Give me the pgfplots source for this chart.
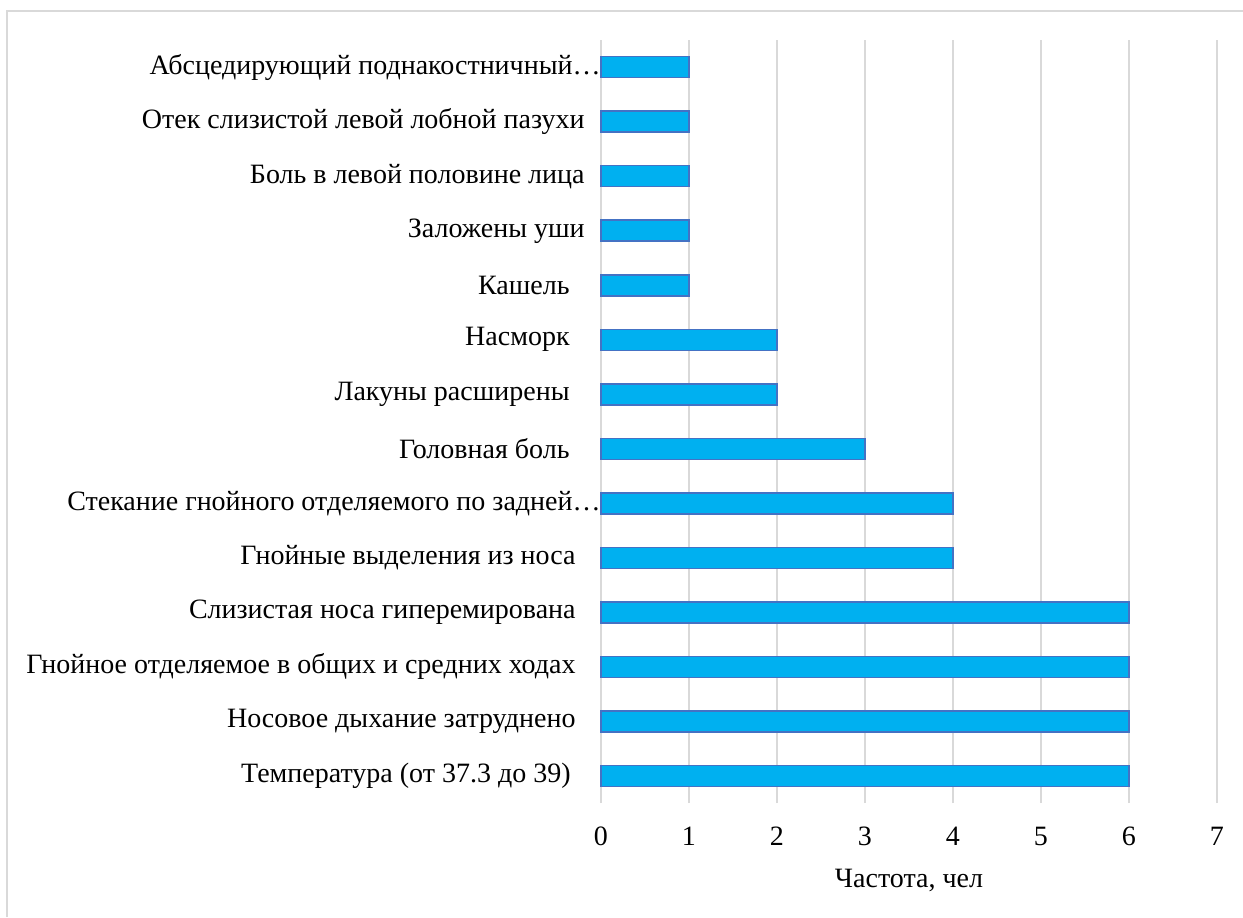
\documentclass[border=0pt]{standalone}
\usepackage{pgfplots}
\pgfplotsset{compat=1.18}
\usepackage{fontspec}
\setmainfont{Liberation Serif}
\definecolor{barfill}{HTML}{00B0F0}
\definecolor{baredge}{HTML}{4472C4}
\definecolor{gridc}{HTML}{D9D9D9}
\begin{document}
\begin{tikzpicture}
\path[use as bounding box] (0,0) rectangle (621.5pt,458.5pt);
\draw[gridc, line width=1pt] (3.5pt,0) -- (3.5pt,453pt) -- (621.5pt,453pt);
\begin{axis}[
  at={(300.5pt,57pt)}, anchor=south west,
  scale only axis, width=308pt, height=381.5pt,
  xbar, bar width=10.5pt,
  xmin=0, xmax=7, ymin=-0.5, ymax=13.5,
  xtick={0,...,7},
  ytick={0,...,13},
  yticklabels={
    {Температура (от 37.3 до 39)\hspace*{7pt}},
    {Носовое дыхание затруднено\hspace*{4.5pt}},
    {Гнойное отделяемое в общих и средних ходах\hspace*{4.5pt}},
    {Слизистая носа гиперемирована\hspace*{4.5pt}},
    {Гнойные выделения из носа\hspace*{4.5pt}},
    {Стекание гнойного отделяемого по задней…\hspace*{-8pt}},
    {Головная боль\hspace*{7.5pt}},
    {Лакуны расширены\hspace*{7.5pt}},
    {Насморк\hspace*{7.5pt}},
    {Кашель\hspace*{7.5pt}},
    {Заложены уши\hspace*{0pt}},
    {Боль в левой половине лица\hspace*{0pt}},
    {Отек слизистой левой лобной пазухи\hspace*{0pt}},
    {Абсцедирующий поднакостничный…\hspace*{-8pt}}
  },
  axis line style={draw=none},
  major tick length=0pt,
  xmajorgrids, grid style={gridc, line width=1pt},
  ymajorgrids=false,
  /pgf/number format/assume math mode=true,
  tick label style={font=\fontsize{14}{16}\selectfont},
  yticklabel style={anchor=east, inner sep=0pt, xshift=-8pt},
  xticklabel style={anchor=center, inner sep=0pt, yshift=-16.5pt},
  xlabel={Частота, чел},
  xlabel style={font=\fontsize{14}{16}\selectfont, anchor=center, inner sep=0pt, at={(axis description cs:0.5,0)}, yshift=-38.5pt},
  clip=false,
]
\addplot[fill=barfill, draw=baredge, line width=0.75pt] coordinates {
  (6,0) (6,1) (6,2) (6,3) (4,4) (4,5) (3,6) (2,7) (2,8) (1,9) (1,10) (1,11) (1,12) (1,13)
};
\end{axis}
\end{tikzpicture}
\end{document}
